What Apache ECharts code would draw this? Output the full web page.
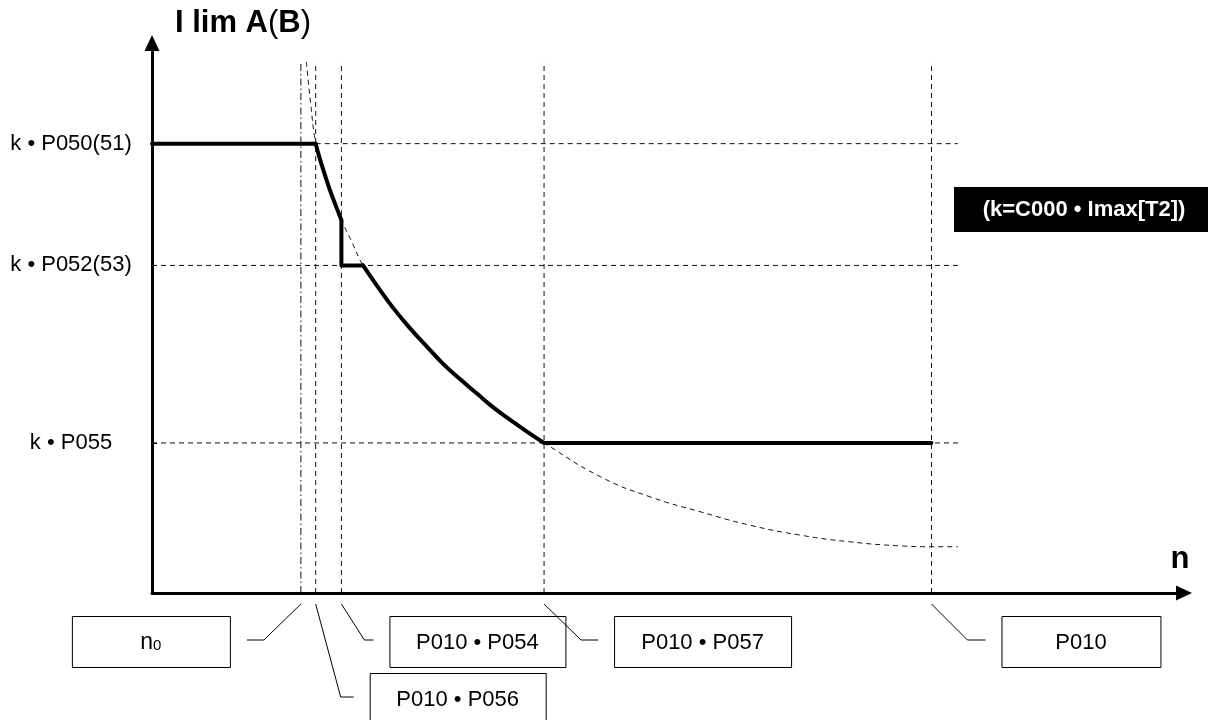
<!DOCTYPE html>
<html>
<head>
<meta charset="utf-8">
<script src="https://cdn.jsdelivr.net/npm/echarts@6/dist/echarts.min.js"></script>
<style>
  html, body { margin: 0; padding: 0; background: #fff; }
  #chart { width: 1208px; height: 720px; }
</style>
</head>
<body>
<div id="chart"></div>
<script>
// speed in % of P010, current in % of k*P050
var levelLabels = ["k \u2022 P050(51)", "k \u2022 P052(53)", "k \u2022 P055"];
var levelValues = [100, 72.9, 33.4];

var markLabels = ["n0", "P010 \u2022 P056", "P010 \u2022 P054", "P010 \u2022 P057", "P010"];
var markValues = [19.1, 21.0, 24.3, 50.3, 100];

// bold limit curve pieces
var flatTop = [[0, 100], [21.0, 100]];
var curveA = [[21.0, 100], [21.55, 96.55], [22.19, 92.99], [22.83, 89.65], [23.6, 86.09], [24.3, 82.98]];
var stepDown = [[24.3, 82.98], [24.3, 72.9], [27.07, 72.9]];
var curveB = [[27.07, 72.9], [28.99, 68.08], [30.91, 63.51], [33.09, 58.95], [35.27, 54.84], [37.32, 51.06],
  [39.51, 47.61], [41.69, 44.38], [43.74, 41.38], [45.92, 38.6], [48.1, 35.93], [50.3, 33.4]];
var flatBottom = [[50.3, 33.4], [100, 33.4]];

// thin dashed theoretical curve
var hyperbola = [[19.8, 118.2], [20.35, 109.0], [21.0, 100], [21.55, 96.55], [22.19, 92.99], [22.83, 89.65],
  [23.6, 86.09], [24.3, 82.98], [25.65, 78.1], [27.07, 72.9], [28.99, 68.08], [30.91, 63.51], [33.09, 58.95],
  [35.27, 54.84], [37.32, 51.06], [39.51, 47.61], [41.69, 44.38], [43.74, 41.38], [45.92, 38.6], [48.1, 35.93],
  [50.3, 33.4], [57.5, 25.9], [63.9, 21.4], [70.3, 18.1], [76.7, 15.1], [83.1, 12.9], [89.5, 11.4],
  [95.9, 10.5], [100, 10.3], [103.4, 10.3]];

var X_MAX = 132.4, Y_MAX = 122.4;
var GUIDE_END = 103.4, GUIDE_TOP = 118.2;

var FONT = '"Liberation Sans", Arial, sans-serif';
var chart = echarts.init(document.getElementById("chart"));

function seg(data, style, smooth) {
  return {
    type: "line", data: data, symbol: "none", silent: true, smooth: smooth || false,
    clip: false, lineStyle: style, z: style.width > 2 ? 5 : 2
  };
}

var dashed = { color: "#111", width: 1, type: [5, 4] };
var dashDot = { color: "#111", width: 1, type: [7, 3, 1.5, 3] };
var bold = { color: "#000", width: 4, cap: "round", join: "round" };

var series = [];
// horizontal guides
series.push(seg([[21.0, levelValues[0]], [GUIDE_END, levelValues[0]]], dashed));
series.push(seg([[0, levelValues[1]], [GUIDE_END, levelValues[1]]], dashed));
series.push(seg([[0, levelValues[2]], [GUIDE_END, levelValues[2]]], dashed));
// vertical guides
markValues.forEach(function (v, i) {
  series.push(seg([[v, 0], [v, GUIDE_TOP]], i === 0 ? dashDot : dashed));
});
series.push(seg(hyperbola, dashed, 0.5));
series.push(seg(flatTop, bold));
series.push(seg(curveA, bold, 0.5));
series.push(seg(stepDown, bold));
series.push(seg(curveB, bold, 0.5));
series.push(seg(flatBottom, bold));

var axisLine = {
  show: true, symbol: ["none", "triangle"], symbolSize: [15, 16],
  lineStyle: { color: "#000", width: 3 }
};

chart.setOption({
  animation: false,
  grid: { left: 152, right: 24, top: 43, bottom: 127 },
  xAxis: {
    type: "value", min: 0, max: X_MAX,
    axisLine: axisLine, axisTick: { show: false }, axisLabel: { show: false }, splitLine: { show: false }
  },
  yAxis: {
    type: "value", min: 0, max: Y_MAX,
    axisLine: axisLine,
    axisTick: { show: true, inside: true, length: 5, customValues: levelValues, lineStyle: { color: "#000", width: 1 } },
    axisLabel: {
      customValues: levelValues, margin: 81, align: "center",
      fontFamily: FONT, fontSize: 22, color: "#000",
      formatter: function (v) { return levelLabels[levelValues.indexOf(v)]; }
    },
    splitLine: { show: false }
  },
  series: series
});

// callouts below the n axis, placed from the marker values
var callouts = [
  { elbow: [-37, 47], end: -54, box: [-229, 23, 158, 51] },
  { elbow: [25, 104], end: 38, box: [54, 80, 176, 51] },
  { elbow: [23, 47], end: 32, box: [48, 23, 176, 51] },
  { elbow: [37, 47], end: 54, box: [70, 23, 177, 51] },
  { elbow: [36, 47], end: 54, box: [70, 23, 159, 51] }
];

var graphic = [];
markValues.forEach(function (v, i) {
  var p = chart.convertToPixel({ gridIndex: 0 }, [v, 0]);
  var c = callouts[i];
  var x = p[0], y = p[1];
  graphic.push({
    type: "polyline",
    shape: { points: [[x, y + 11], [x + c.elbow[0], y + c.elbow[1]], [x + c.end, y + c.elbow[1]]] },
    style: { stroke: "#000", lineWidth: 1, fill: null }
  });
  var bx = x + c.box[0], by = y + c.box[1];
  graphic.push({
    type: "rect",
    shape: { x: bx + 0.5, y: by + 0.5, width: c.box[2], height: c.box[3] },
    style: { fill: "#fff", stroke: "#000", lineWidth: 1 }
  });
  var txt = markLabels[i];
  var style = {
    x: bx + c.box[2] / 2, y: by + c.box[3] / 2 + 1, align: "center", verticalAlign: "middle",
    fontFamily: FONT, fontSize: 22, fill: "#000", text: txt
  };
  if (txt === "n0") {
    style.text = "{n|n}{s|0}";
    style.rich = {
      n: { fontFamily: FONT, fontSize: 23, fill: "#000" },
      s: { fontFamily: FONT, fontSize: 15, fill: "#000", padding: [7, 0, 0, 0] }
    };
  }
  graphic.push({ type: "text", style: style });
});

// axis titles and constant note
graphic.push({
  type: "text",
  style: {
    x: 243, y: 23, align: "center", verticalAlign: "middle",
    text: "{b|I lim A}{r|(}{b|B}{r|)}",
    rich: {
      b: { fontFamily: FONT, fontSize: 31, fontWeight: "bold", fill: "#000" },
      r: { fontFamily: FONT, fontSize: 31, fill: "#000" }
    }
  }
});
graphic.push({
  type: "text",
  style: { x: 1180, y: 559, align: "center", verticalAlign: "middle", text: "n",
    fontFamily: FONT, fontSize: 31, fontWeight: "bold", fill: "#000" }
});
graphic.push({
  type: "rect", shape: { x: 954, y: 187, width: 254, height: 45 }, style: { fill: "#000" }
});
graphic.push({
  type: "text",
  style: { x: 1084, y: 210, align: "center", verticalAlign: "middle", text: "(k=C000 \u2022 Imax[T2])",
    fontFamily: FONT, fontSize: 22, fontWeight: "bold", fill: "#fff" }
});

chart.setOption({ graphic: graphic });
</script>
</body>
</html>
